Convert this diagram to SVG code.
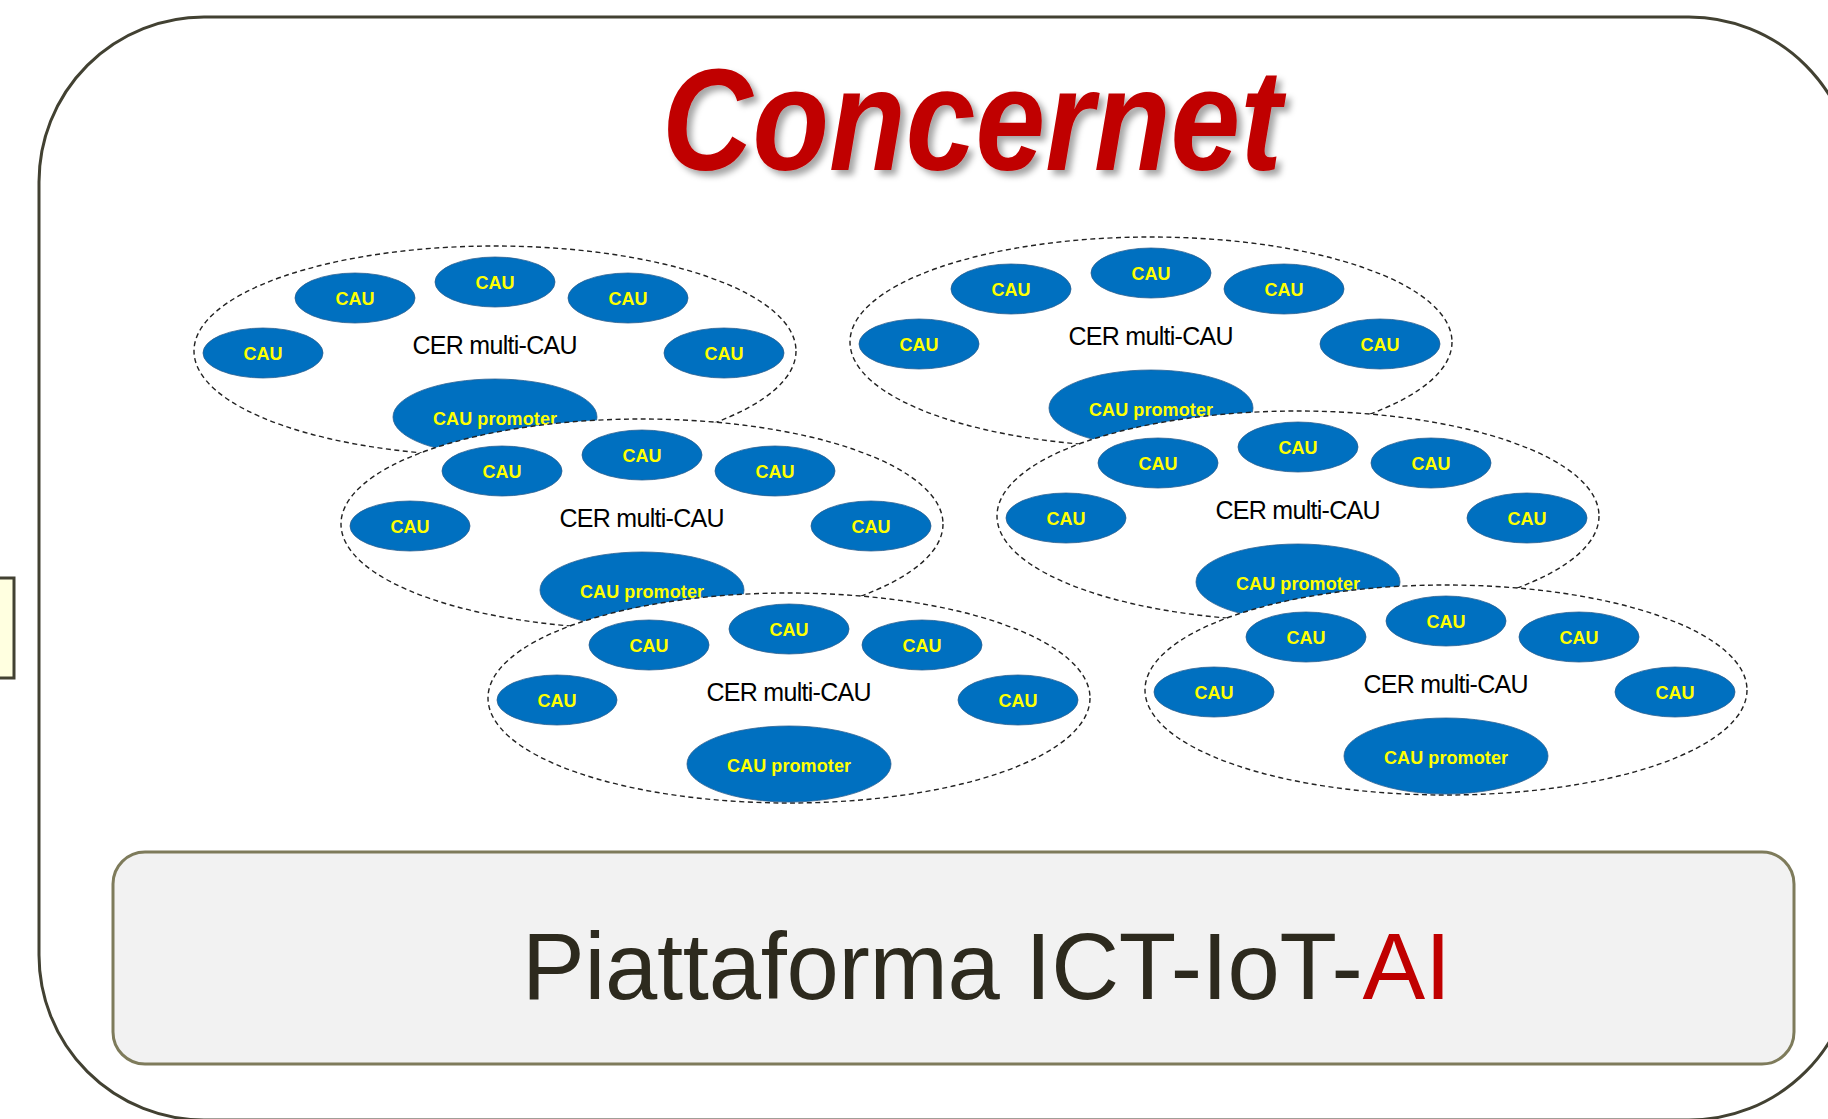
<svg xmlns="http://www.w3.org/2000/svg" width="1828" height="1119" viewBox="0 0 1828 1119">
<style>
.frame{fill:#fff;stroke:#424132;stroke-width:3}
.side{fill:#FFFFE0;stroke:#424132;stroke-width:3}
.cer{fill:#fff;stroke:#222;stroke-width:1.4;stroke-dasharray:5 3.5}
.cau{fill:#0070C0;stroke:#2a5f90;stroke-width:0.8}
.ct{font-family:"Liberation Sans",Arial,sans-serif;font-weight:bold;font-size:18px;fill:#FFFF00;text-anchor:middle}
.lbl{font-family:"Liberation Sans",Arial,sans-serif;font-size:25px;fill:#000;text-anchor:middle}
.title{font-family:"Liberation Sans",Arial,sans-serif;font-weight:bold;font-style:italic;font-size:145px;fill:#C00000}
.plat{fill:#F2F2F2;stroke:#7E7B5B;stroke-width:3}
.ptxt{font-family:"Liberation Sans",Arial,sans-serif;font-size:94px;fill:#2D2A1E}
</style>
<defs>
<filter id="sh" x="-10%" y="-10%" width="130%" height="140%">
<feDropShadow dx="5" dy="5" stdDeviation="3" flood-color="#000" flood-opacity="0.35"/>
</filter>
</defs>

<g id="frame">
<rect class="frame" x="39" y="17" width="1815" height="1103" rx="165" ry="165"/>
</g>
<g id="side-box">
<rect class="side" x="-5" y="578" width="19" height="100"/>
</g>

<g id="title">
<text class="title" x="662" y="170" textLength="620" lengthAdjust="spacingAndGlyphs" filter="url(#sh)">Concernet</text>
</g>

<g id="cer-A" transform="translate(495,351)">
<ellipse class="cer" rx="301" ry="105"/>
<text class="lbl" x="0" y="3" textLength="165">CER multi-CAU</text>
<g id="cau-A1"><ellipse class="cau" cx="-232" cy="2" rx="60" ry="25"/><text class="ct" x="-232" y="9">CAU</text></g>
<g id="cau-A2"><ellipse class="cau" cx="-140" cy="-53" rx="60" ry="25"/><text class="ct" x="-140" y="-46">CAU</text></g>
<g id="cau-A3"><ellipse class="cau" cx="0" cy="-69" rx="60" ry="25"/><text class="ct" x="0" y="-62">CAU</text></g>
<g id="cau-A4"><ellipse class="cau" cx="133" cy="-53" rx="60" ry="25"/><text class="ct" x="133" y="-46">CAU</text></g>
<g id="cau-A5"><ellipse class="cau" cx="229" cy="2" rx="60" ry="25"/><text class="ct" x="229" y="9">CAU</text></g>
<g id="prom-A"><ellipse class="cau" cx="0" cy="66" rx="102" ry="38"/><text class="ct" x="0" y="74" textLength="124">CAU promoter</text></g>
</g>

<g id="cer-B" transform="translate(642,524)">
<ellipse class="cer" rx="301" ry="105"/>
<text class="lbl" x="0" y="3" textLength="165">CER multi-CAU</text>
<g id="cau-B1"><ellipse class="cau" cx="-232" cy="2" rx="60" ry="25"/><text class="ct" x="-232" y="9">CAU</text></g>
<g id="cau-B2"><ellipse class="cau" cx="-140" cy="-53" rx="60" ry="25"/><text class="ct" x="-140" y="-46">CAU</text></g>
<g id="cau-B3"><ellipse class="cau" cx="0" cy="-69" rx="60" ry="25"/><text class="ct" x="0" y="-62">CAU</text></g>
<g id="cau-B4"><ellipse class="cau" cx="133" cy="-53" rx="60" ry="25"/><text class="ct" x="133" y="-46">CAU</text></g>
<g id="cau-B5"><ellipse class="cau" cx="229" cy="2" rx="60" ry="25"/><text class="ct" x="229" y="9">CAU</text></g>
<g id="prom-B"><ellipse class="cau" cx="0" cy="66" rx="102" ry="38"/><text class="ct" x="0" y="74" textLength="124">CAU promoter</text></g>
</g>

<g id="cer-C" transform="translate(789,698)">
<ellipse class="cer" rx="301" ry="105"/>
<text class="lbl" x="0" y="3" textLength="165">CER multi-CAU</text>
<g id="cau-C1"><ellipse class="cau" cx="-232" cy="2" rx="60" ry="25"/><text class="ct" x="-232" y="9">CAU</text></g>
<g id="cau-C2"><ellipse class="cau" cx="-140" cy="-53" rx="60" ry="25"/><text class="ct" x="-140" y="-46">CAU</text></g>
<g id="cau-C3"><ellipse class="cau" cx="0" cy="-69" rx="60" ry="25"/><text class="ct" x="0" y="-62">CAU</text></g>
<g id="cau-C4"><ellipse class="cau" cx="133" cy="-53" rx="60" ry="25"/><text class="ct" x="133" y="-46">CAU</text></g>
<g id="cau-C5"><ellipse class="cau" cx="229" cy="2" rx="60" ry="25"/><text class="ct" x="229" y="9">CAU</text></g>
<g id="prom-C"><ellipse class="cau" cx="0" cy="66" rx="102" ry="38"/><text class="ct" x="0" y="74" textLength="124">CAU promoter</text></g>
</g>

<g id="cer-D" transform="translate(1151,342)">
<ellipse class="cer" rx="301" ry="105"/>
<text class="lbl" x="0" y="3" textLength="165">CER multi-CAU</text>
<g id="cau-D1"><ellipse class="cau" cx="-232" cy="2" rx="60" ry="25"/><text class="ct" x="-232" y="9">CAU</text></g>
<g id="cau-D2"><ellipse class="cau" cx="-140" cy="-53" rx="60" ry="25"/><text class="ct" x="-140" y="-46">CAU</text></g>
<g id="cau-D3"><ellipse class="cau" cx="0" cy="-69" rx="60" ry="25"/><text class="ct" x="0" y="-62">CAU</text></g>
<g id="cau-D4"><ellipse class="cau" cx="133" cy="-53" rx="60" ry="25"/><text class="ct" x="133" y="-46">CAU</text></g>
<g id="cau-D5"><ellipse class="cau" cx="229" cy="2" rx="60" ry="25"/><text class="ct" x="229" y="9">CAU</text></g>
<g id="prom-D"><ellipse class="cau" cx="0" cy="66" rx="102" ry="38"/><text class="ct" x="0" y="74" textLength="124">CAU promoter</text></g>
</g>

<g id="cer-E" transform="translate(1298,516)">
<ellipse class="cer" rx="301" ry="105"/>
<text class="lbl" x="0" y="3" textLength="165">CER multi-CAU</text>
<g id="cau-E1"><ellipse class="cau" cx="-232" cy="2" rx="60" ry="25"/><text class="ct" x="-232" y="9">CAU</text></g>
<g id="cau-E2"><ellipse class="cau" cx="-140" cy="-53" rx="60" ry="25"/><text class="ct" x="-140" y="-46">CAU</text></g>
<g id="cau-E3"><ellipse class="cau" cx="0" cy="-69" rx="60" ry="25"/><text class="ct" x="0" y="-62">CAU</text></g>
<g id="cau-E4"><ellipse class="cau" cx="133" cy="-53" rx="60" ry="25"/><text class="ct" x="133" y="-46">CAU</text></g>
<g id="cau-E5"><ellipse class="cau" cx="229" cy="2" rx="60" ry="25"/><text class="ct" x="229" y="9">CAU</text></g>
<g id="prom-E"><ellipse class="cau" cx="0" cy="66" rx="102" ry="38"/><text class="ct" x="0" y="74" textLength="124">CAU promoter</text></g>
</g>

<g id="cer-F" transform="translate(1446,690)">
<ellipse class="cer" rx="301" ry="105"/>
<text class="lbl" x="0" y="3" textLength="165">CER multi-CAU</text>
<g id="cau-F1"><ellipse class="cau" cx="-232" cy="2" rx="60" ry="25"/><text class="ct" x="-232" y="9">CAU</text></g>
<g id="cau-F2"><ellipse class="cau" cx="-140" cy="-53" rx="60" ry="25"/><text class="ct" x="-140" y="-46">CAU</text></g>
<g id="cau-F3"><ellipse class="cau" cx="0" cy="-69" rx="60" ry="25"/><text class="ct" x="0" y="-62">CAU</text></g>
<g id="cau-F4"><ellipse class="cau" cx="133" cy="-53" rx="60" ry="25"/><text class="ct" x="133" y="-46">CAU</text></g>
<g id="cau-F5"><ellipse class="cau" cx="229" cy="2" rx="60" ry="25"/><text class="ct" x="229" y="9">CAU</text></g>
<g id="prom-F"><ellipse class="cau" cx="0" cy="66" rx="102" ry="38"/><text class="ct" x="0" y="74" textLength="124">CAU promoter</text></g>
</g>

<g id="platform">
<rect class="plat" x="113" y="852" width="1681" height="212" rx="32" ry="32"/>
<text class="ptxt" x="522" y="999" textLength="929">Piattaforma ICT-IoT-<tspan fill="#C00000">AI</tspan></text>
</g>
</svg>
